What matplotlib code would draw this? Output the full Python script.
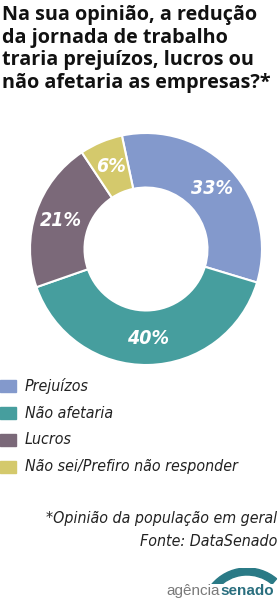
import matplotlib.pyplot as plt
from matplotlib.patches import Wedge, Rectangle
from matplotlib import font_manager
import numpy as np

W, H = 279, 611

title_lines = ["Na sua opinião, a redução", "da jornada de trabalho",
               "traria prejuízos, lucros ou", "não afetaria as empresas?*"]
labels = ["Prejuízos", "Não afetaria", "Lucros", "Não sei/Prefiro não responder"]
values = [33, 40, 21, 6]
colors = ["#8399cc", "#469e9e", "#7b6979", "#d4c96c"]
note = "*Opinião da população em geral"
source = "Fonte: DataSenado"

names = {f.name for f in font_manager.fontManager.ttflist}
narrow = "Liberation Sans Narrow" if "Liberation Sans Narrow" in names else "DejaVu Sans"


def fx(px):
    return px / W


def fy(py):
    return 1 - py / H


fig = plt.figure(figsize=(W / 100, H / 100), dpi=100)
fig.patch.set_facecolor("white")
renderer = fig.canvas.get_renderer()


def fit(t, width_px):
    # scale the font so the text takes the given width in pixels
    w = t.get_window_extent(renderer).width
    t.set_fontsize(t.get_fontsize() * width_px / w)


# title
for i, line in enumerate(title_lines):
    t = fig.text(fx(2), fy(15 + i * 22.7), line, fontsize=14, fontweight="bold",
                 family="Open Sans", va="center", ha="left", color="#111111")
    if i == 0:
        fit(t, 256)
        size = t.get_fontsize()
    else:
        t.set_fontsize(size)

# donut
cx, cy, r = 146, 249, 116
ax = fig.add_axes([fx(cx - r), fy(cy + r), 2 * r / W, 2 * r / H])
wedges, _ = ax.pie(values, colors=colors, startangle=102, counterclock=False,
                   radius=1, wedgeprops=dict(width=0.47, edgecolor="white", linewidth=1.5))
ax.set_xlim(-1, 1)
ax.set_ylim(-1, 1)
ax.set_aspect("equal")
ax.axis("off")

ang = 102
for v in values:
    mid = np.deg2rad(ang - v * 3.6 / 2)
    ang -= v * 3.6
    rr = 0.77
    ax.text(rr * np.cos(mid), rr * np.sin(mid), f"{v}%", color="white",
            fontsize=14, fontweight="bold", style="italic", family=narrow,
            stretch="condensed", ha="center", va="center")

# legend
for i, (lab, c) in enumerate(zip(labels, colors)):
    y = 386 + i * 27
    fig.patches.append(Rectangle((fx(0), fy(y + 6)), fx(16), 12 / H, color=c,
                                 transform=fig.transFigure, figure=fig))
    t = fig.text(fx(25), fy(y), lab, fontsize=12, style="italic", stretch="condensed",
                 family=narrow, va="center", ha="left", color="#222222")
    if i == 3:
        fit(t, 212)
        lsize = t.get_fontsize()
for t in fig.texts[-4:-1]:
    t.set_fontsize(lsize)

# footer
fig.text(fx(277), fy(518), note, fontsize=lsize, style="italic", stretch="condensed",
         family=narrow, va="center", ha="right", color="#222222")
fig.text(fx(277), fy(541), source, fontsize=lsize, style="italic", stretch="condensed",
         family=narrow, va="center", ha="right", color="#222222")

# logo
fig.text(fx(220), fy(591), "agência", fontsize=11, family="Liberation Sans",
         va="center", ha="right", color="#7a7a7a")
fig.text(fx(220), fy(591), "senado", fontsize=11, family="Liberation Sans",
         fontweight="bold", va="center", ha="left", color="#2a6f7f")
lax = fig.add_axes([fx(205), fy(584), fx(74), 16 / H])
lax.set_xlim(0, 74)
lax.set_ylim(0, 16)
lax.axis("off")
lax.add_patch(Wedge((42, -30), 46, 50, 140, width=7, color="#2a7a86"))

fig.savefig("out.png", dpi=100, facecolor="white")
